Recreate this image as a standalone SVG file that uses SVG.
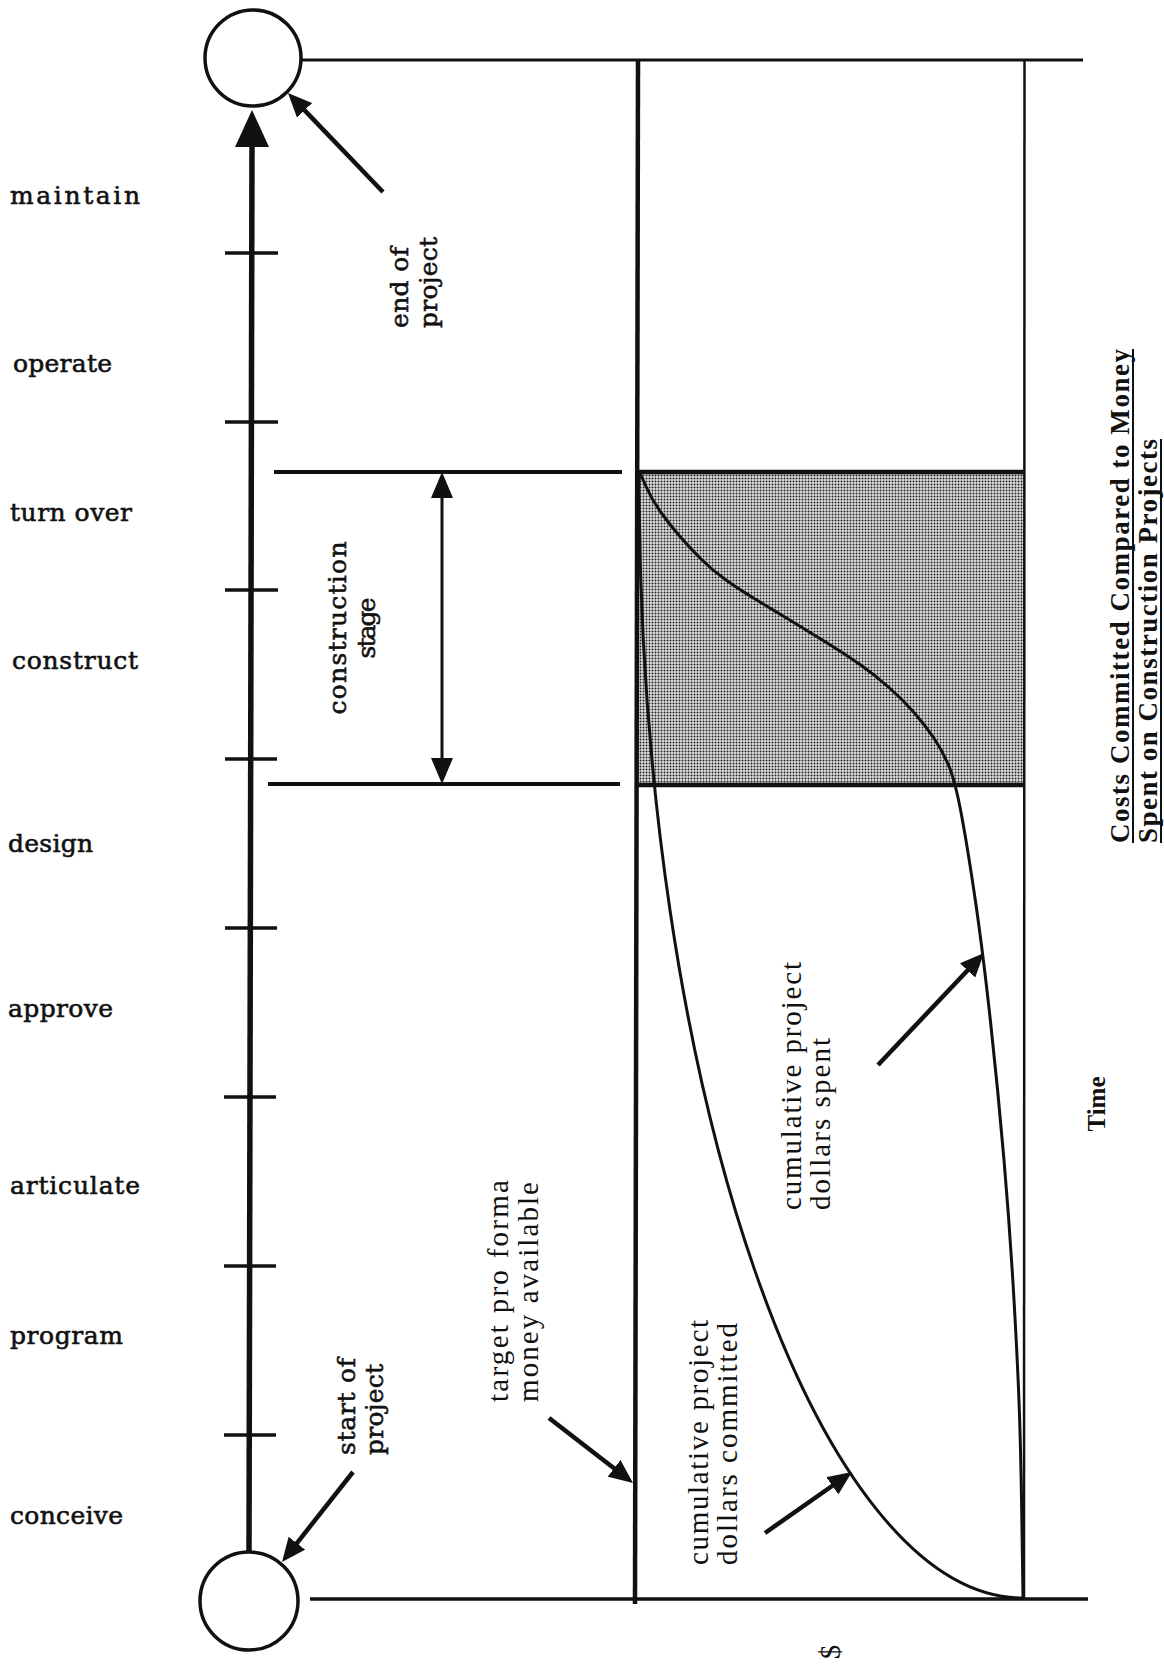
<svg xmlns="http://www.w3.org/2000/svg" width="1164" height="1665" viewBox="0 0 1164 1665">
<style>
.lbl{font-family:"DejaVu Serif","Liberation Serif",serif;font-size:25px;fill:#111;stroke:#111;stroke-width:0.6}
.ann{font-family:"Liberation Serif","DejaVu Serif",serif;font-size:29px;fill:#111}
.ttl{font-family:"Liberation Serif","DejaVu Serif",serif;font-size:27px;font-weight:bold;fill:#111}
.ln{stroke:#111;fill:none;stroke-linecap:butt}
.arr{stroke:#111;stroke-width:4.5;fill:none;marker-end:url(#ah)}
.tick{stroke:#111;stroke-width:3.5}
</style>
<defs>
<marker id="ah" markerUnits="userSpaceOnUse" markerWidth="24" markerHeight="21" viewBox="0 0 24 21" refX="4" refY="10.5" orient="auto">
<path d="M0,0 L24,10.5 L0,21 z" fill="#111"/>
</marker>
<pattern id="stip" patternUnits="userSpaceOnUse" width="3" height="3">
<rect width="3" height="3" fill="#dedede"/>
<circle cx="1.5" cy="1.5" r="1" fill="#222"/>
</pattern>
</defs>
<rect width="1164" height="1665" fill="#fff"/>

<g id="phase-labels">
<text class="lbl" x="10" y="204" textLength="130" lengthAdjust="spacing">maintain</text>
<text class="lbl" x="13" y="372" textLength="99" lengthAdjust="spacing">operate</text>
<text class="lbl" x="10" y="521" textLength="122" lengthAdjust="spacing">turn over</text>
<text class="lbl" x="12" y="669" textLength="126" lengthAdjust="spacing">construct</text>
<text class="lbl" x="8" y="852" textLength="85" lengthAdjust="spacing">design</text>
<text class="lbl" x="8" y="1017" textLength="105" lengthAdjust="spacing">approve</text>
<text class="lbl" x="10" y="1194" textLength="130" lengthAdjust="spacing">articulate</text>
<text class="lbl" x="10" y="1344" textLength="113" lengthAdjust="spacing">program</text>
<text class="lbl" x="10" y="1524" textLength="113" lengthAdjust="spacing">conceive</text>
</g>

<g id="timeline">
<line class="ln" x1="249" y1="1553" x2="252" y2="140" stroke-width="5.5"/>
<polygon points="252,110 235,147 269,147" fill="#111"/>
<line class="tick" x1="225" y1="253" x2="278" y2="253"/>
<line class="tick" x1="225" y1="422" x2="278" y2="422"/>
<line class="tick" x1="225" y1="590" x2="278" y2="590"/>
<line class="tick" x1="225" y1="759" x2="277" y2="759"/>
<line class="tick" x1="225" y1="928" x2="277" y2="928"/>
<line class="tick" x1="224" y1="1097" x2="276" y2="1097"/>
<line class="tick" x1="224" y1="1266" x2="276" y2="1266"/>
<line class="tick" x1="224" y1="1435" x2="276" y2="1435"/>
</g>

<g id="end-node">
<circle cx="253" cy="58" r="48" fill="#fff" stroke="#111" stroke-width="3.5"/>
<text class="lbl" transform="translate(408,328) rotate(-90)" textLength="81" lengthAdjust="spacing">end of</text>
<text class="lbl" transform="translate(437,328) rotate(-90)" textLength="91" lengthAdjust="spacing">project</text>
</g>

<g id="start-node">
<circle cx="249" cy="1601" r="49" fill="#fff" stroke="#111" stroke-width="3.5"/>
<text class="lbl" transform="translate(355,1455) rotate(-90)" textLength="97" lengthAdjust="spacing">start of</text>
<text class="lbl" transform="translate(383,1455) rotate(-90)" textLength="91" lengthAdjust="spacing">project</text>
</g>

<g id="construction-stage">
<line class="ln" x1="274" y1="472" x2="622" y2="472" stroke-width="4"/>
<line class="ln" x1="268" y1="784" x2="620" y2="784" stroke-width="4"/>
<line class="ln" x1="442" y1="495" x2="442" y2="761" stroke-width="3"/>
<polygon points="442,472 431,498 453,498" fill="#111"/>
<polygon points="442,784 431,758 453,758" fill="#111"/>
<text class="lbl" transform="translate(346,628) rotate(-90)" text-anchor="middle" textLength="173" lengthAdjust="spacing">construction</text>
<text class="lbl" transform="translate(375,628) rotate(-90)" text-anchor="middle" textLength="61" lengthAdjust="spacing">stage</text>
</g>

<g id="chart">
<rect x="637" y="472" width="387" height="313" fill="url(#stip)"/>
<line class="ln" x1="302" y1="60" x2="1083" y2="60" stroke-width="3"/>
<line class="ln" x1="310" y1="1599" x2="1088" y2="1599" stroke-width="3.5"/>
<line class="ln" x1="638" y1="61" x2="635" y2="1604" stroke-width="4.5"/>
<line class="ln" x1="1024.5" y1="61" x2="1024" y2="1599" stroke-width="2.5"/>
<line class="ln" x1="636" y1="472" x2="1025" y2="472" stroke-width="4.5"/>
<line class="ln" x1="636" y1="785" x2="1025" y2="785" stroke-width="4.5"/>
<path id="spent-curve" class="ln" stroke-width="3" d="M640,473 L646,486.5 Q652,500 661,512.5 Q670,525 680,536.5 Q690,548 701,559 Q712,570 726,580 Q740,590 757.5,600.5 Q775,611 793,622 Q811,633 828,643.5 Q845,654 860,664.5 Q875,675 889,687.5 Q903,700 914,712.5 Q925,725 933.5,737.5 Q942,750 948.5,765 Q955,780 961.5,815 Q968,850 975.5,901.5 Q983,953 990.5,1021.5 Q998,1090 1004,1160 Q1010,1230 1014,1300 Q1018,1370 1019.5,1415 Q1021,1460 1022,1529 L1023,1598"/>
<path id="committed-curve" class="ln" stroke-width="3" d="M1023,1598 C820,1598 639,1100 639,473"/>
</g>

<g id="chart-labels">
<text class="ann" transform="translate(508,1402) rotate(-90)" textLength="222" lengthAdjust="spacing">target pro forma</text>
<text class="ann" transform="translate(538,1402) rotate(-90)" textLength="220" lengthAdjust="spacing">money available</text>
<text class="ann" transform="translate(708,1565) rotate(-90)" textLength="245" lengthAdjust="spacing">cumulative project</text>
<text class="ann" transform="translate(737,1565) rotate(-90)" textLength="242" lengthAdjust="spacing">dollars committed</text>
<text class="ann" transform="translate(801,1210) rotate(-90)" textLength="248" lengthAdjust="spacing">cumulative project</text>
<text class="ann" transform="translate(830,1210) rotate(-90)" textLength="172" lengthAdjust="spacing">dollars spent</text>
<text class="ttl" transform="translate(1105,1104) rotate(-90)" text-anchor="middle" style="font-size:25px">Time</text>
<text class="ann" transform="translate(840,1652) rotate(-90)" text-anchor="middle">$</text>
</g>

<g id="title">
<text class="ttl" transform="translate(1129,843) rotate(-90)" textLength="494" lengthAdjust="spacing">Costs Committed Compared to Money</text>
<text class="ttl" transform="translate(1157,843) rotate(-90)" textLength="404" lengthAdjust="spacing">Spent on Construction Projects</text>
<line class="ln" x1="1133" y1="349" x2="1133" y2="843" stroke-width="2"/>
<line class="ln" x1="1161" y1="439" x2="1161" y2="843" stroke-width="2"/>
</g>

<g id="connectors">
<line class="arr" x1="383" y1="192" x2="301.8" y2="107.4"/>
<line class="arr" x1="353" y1="1472" x2="294.4" y2="1546.3"/>
<line class="arr" x1="549" y1="1418" x2="617.2" y2="1470.8"/>
<line class="arr" x1="765" y1="1533" x2="835.6" y2="1483.5"/>
<line class="arr" x1="878" y1="1065" x2="970.3" y2="967.5"/>
</g>
</svg>
